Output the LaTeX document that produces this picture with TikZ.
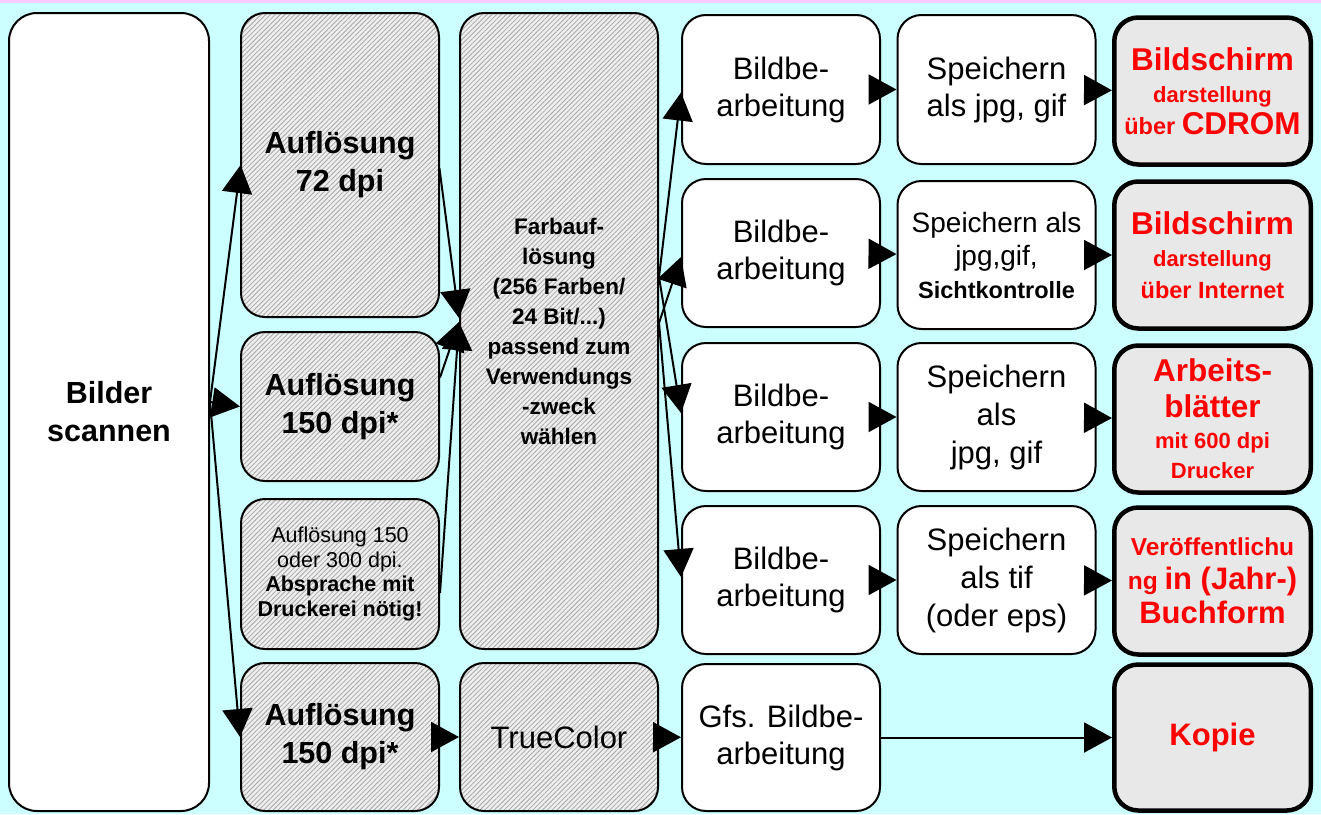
\documentclass[tikz,border=0pt]{standalone}
\usepackage{fontspec}
\setmainfont{Liberation Sans}
\usetikzlibrary{arrows.meta,patterns.meta}
\definecolor{bgcyan}{HTML}{CCFFFF}
\definecolor{toppink}{HTML}{FFCCFF}
\definecolor{destgray}{HTML}{E8E8E8}
\definecolor{hatchbg}{HTML}{EEEEEE}
\definecolor{hatchln}{HTML}{A8A8A8}
\newcommand{\fs}[2]{\fontsize{#1}{#2}\selectfont}
\tikzset{
  box/.style={draw, line width=2pt, rounded corners=24pt, minimum width=198pt,
    inner sep=0pt, align=center},
  plain/.style={box, fill=white},
  hatch/.style={box, preaction={fill=hatchbg},
    pattern={Lines[angle=45,distance=3.4pt,line width=0.8pt]}, pattern color=hatchln},
  dest/.style={box, line width=4.5pt, minimum width=196.5pt, fill=destgray, text=red,
    font=\fs{31.5}{32}\bfseries},
  bigbold/.style={font=\fs{30.5}{38}\bfseries},
  bigreg/.style={font=\fs{31}{37}},
  arr/.style={-{Triangle[length=28pt,width=30pt]}, line width=2pt},
}
\begin{document}
\begin{tikzpicture}[x=1pt,y=-1pt]
\useasboundingbox (0,0) rectangle (1321,814);
\fill[bgcyan] (0,0) rectangle (1321,814);
\fill[toppink] (0,0) rectangle (1321,3);

% column 1
\node[plain, minimum width=200pt, minimum height=798pt, rounded corners=28pt, bigbold] (scan) at (109,412) {Bilder\\scannen};

% column 2
\node[hatch, minimum height=304pt, bigbold] (a72) at (340,165) {Auflösung\\72 dpi};
\node[hatch, minimum height=149pt, bigbold] (a150) at (340,406.5) {Auflösung\\150 dpi*};
\node[hatch, minimum height=150pt, font=\fs{21.5}{24.5}] (a300) at (340,574) {Auflösung 150\\oder 300 dpi.\\\textbf{Absprache mit}\\\textbf{Druckerei nötig!}};
\node[hatch, minimum height=148pt, bigbold] (a150b) at (340,737) {Auflösung\\150 dpi*};

% column 3
\node[hatch, minimum height=636pt, font=\fs{22.5}{30}\bfseries] (farb) at (559,331) {Farbauf-\\lösung\\(256 Farben/\\24 Bit/...)\\passend zum\\Verwendungs\\-zweck\\wählen};
\node[hatch, minimum height=148pt, bigreg] (tc) at (559,737) {TrueColor};

% column 4
\node[plain, minimum height=149pt, bigreg] (r1) at (781,89.5) {Bildbe-\\arbeitung};
\node[plain, minimum height=148pt, bigreg] (r2) at (781,253) {Bildbe-\\arbeitung};
\node[plain, minimum height=148pt, bigreg] (r3) at (781,417) {Bildbe-\\arbeitung};
\node[plain, minimum height=148pt, bigreg] (r4) at (781,580) {Bildbe-\\arbeitung};
\node[plain, minimum height=147pt, bigreg] (g) at (781,737.5) {Gfs. Bildbe-\\arbeitung};

% column 5
\node[plain, minimum height=149pt, bigreg] (s1) at (996.5,89.5) {Speichern\\als jpg, gif};
\node[plain, minimum height=148pt, font=\fs{28}{33}] (s2) at (996.5,255) {Speichern als\\jpg,gif,\\{\fs{23.5}{26}\bfseries Sichtkontrolle}};
\node[plain, minimum height=148pt, font=\fs{31}{38}] (s3) at (996.5,417) {Speichern\\als\\jpg, gif};
\node[plain, minimum height=148pt, font=\fs{31}{38}] (s4) at (996.5,580) {Speichern\\als tif\\(oder eps)};

% column 6
\node[dest, minimum height=147pt] (d1) at (1212.5,91) {Bildschirm\\{\fs{22}{24}darstellung}\\{\fs{23.5}{24}über }CDROM};
\node[dest, minimum height=147pt] (d2) at (1212.5,255) {Bildschirm\\{\fs{22}{24}darstellung}\\{\fs{23.5}{24}über Internet}};
\node[dest, minimum height=147pt, font=\fs{31.5}{36}\bfseries] (d3) at (1212.5,419) {Arbeits-\\blätter\\[-5pt]{\fs{22}{24}mit 600 dpi}\\[-6pt]{\fs{22}{24}Drucker}};
\node[dest, minimum height=147pt, font=\fs{31}{34}\bfseries] (d4) at (1212.5,581) {{\fs{24.5}{26}Veröffentlichu}\\{\fs{24.5}{26}ng }in (Jahr-)\\Buchform};
\node[dest, minimum height=146pt, font=\fs{31}{32}\bfseries] (kop) at (1212.5,737.5) {Kopie};

% connectors
\draw[arr] ([yshift=10pt]scan.east) -- (a72.west);
\draw[arr] ([yshift=10pt]scan.east) -- (a150.west);
\draw[arr] ([yshift=10pt]scan.east) -- (a150b.west);

\draw[arr] ([yshift=-3pt]a72.east) -- ([yshift=13pt]farb.west);
\draw[arr] ([yshift=29pt]a150.east) -- ([yshift=9pt]farb.west);
\draw[arr] ([yshift=-19pt]a300.east) -- ([yshift=9pt]farb.west);

\draw[arr] ([yshift=54pt]farb.east) -- ([yshift=-3pt]r1.west);
\draw[arr] ([yshift=8pt]farb.east) -- ([yshift=-4pt]r2.west);
\draw[arr] ([yshift=54pt]farb.east) -- ([yshift=4pt]r3.west);
\draw[arr] ([yshift=8pt]farb.east) -- ([yshift=3pt]r4.west);

\draw[arr] (r1) -- (s1);
\draw[arr] (r2) -- (s2);
\draw[arr] (r3) -- (s3);
\draw[arr] (r4) -- (s4);
\draw[arr] (s1) -- (d1);
\draw[arr] (s2) -- (d2);
\draw[arr] (s3) -- (d3);
\draw[arr] (s4) -- (d4);

\draw[arr] (a150b) -- (tc);
\draw[arr] (tc) -- (g);
\draw[arr] (g) -- (kop);
\end{tikzpicture}
\end{document}
